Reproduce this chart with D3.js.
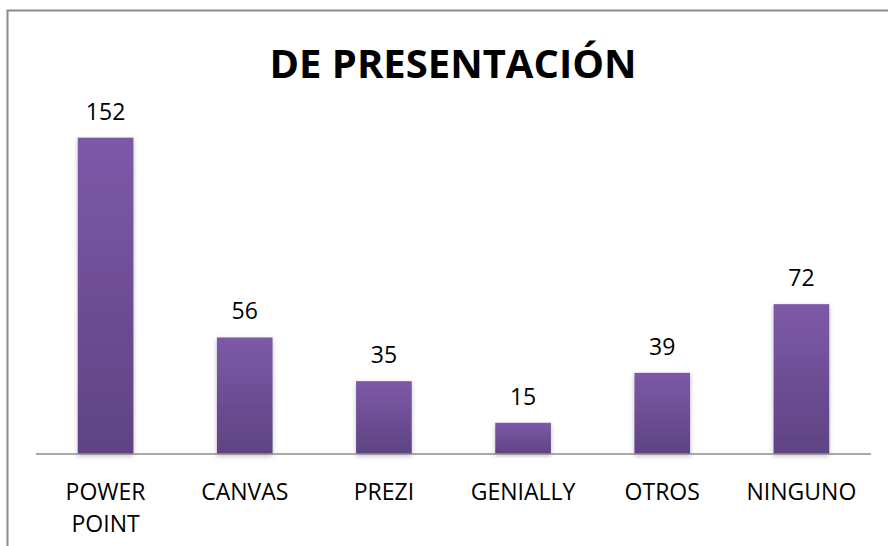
<!DOCTYPE html>
<html>
<head>
<meta charset="utf-8">
<script src="https://cdn.jsdelivr.net/npm/d3@7"></script>
<style>
body{margin:0;background:#fff;}
svg{display:block;}
</style>
</head>
<body>
<div id="chart"></div>
<script>
const categories = ["POWER POINT","CANVAS","PREZI","GENIALLY","OTROS","NINGUNO"];
const values = [152,56,35,15,39,72];
const title = "DE PRESENTACIÓN";

const W = 888, H = 546;
const svg = d3.select("#chart").append("svg")
    .attr("width",W).attr("height",H);

const defs = svg.append("defs");
const grad = defs.append("linearGradient")
    .attr("id","barGrad").attr("x1",0).attr("y1",0).attr("x2",0).attr("y2",1);
grad.append("stop").attr("offset","0%").attr("stop-color","#7D59A8");
grad.append("stop").attr("offset","100%").attr("stop-color","#5E4382");

const shadow = defs.append("filter").attr("id","shadow")
    .attr("x","-20%").attr("y","-5%").attr("width","140%").attr("height","115%");
shadow.append("feDropShadow")
    .attr("dx",0).attr("dy",2).attr("stdDeviation",2.5)
    .attr("flood-color","#000").attr("flood-opacity",0.25);

// chart border
svg.append("rect")
    .attr("x",7.5).attr("y",10.5)
    .attr("width",W+10).attr("height",H+10)
    .attr("fill","none").attr("stroke","#8c8c8c").attr("stroke-width",2);

const x = d3.scaleBand()
    .domain(categories)
    .range([36,871])
    .paddingInner(0.6)
    .paddingOuter(0.3);

const y = d3.scaleLinear()
    .domain([0,160])
    .range([454,121]);

const font = "'Open Sans', 'Liberation Sans', sans-serif";

svg.append("text")
    .text(title)
    .attr("x",453).attr("y",78)
    .attr("text-anchor","middle")
    .style("font-family",font)
    .style("font-weight","bold")
    .style("font-size","40px")
    .attr("fill","#000");

svg.append("g")
    .selectAll("rect")
    .data(values)
    .enter()
    .append("rect")
    .attr("x",(d,i)=>x(categories[i]))
    .attr("y",d=>y(d))
    .attr("width",x.bandwidth())
    .attr("height",d=>y(0)-y(d))
    .attr("fill","url(#barGrad)")
    .attr("filter","url(#shadow)");

// baseline
svg.append("line")
    .attr("x1",36).attr("x2",871)
    .attr("y1",y(0)).attr("y2",y(0))
    .attr("stroke","#8c8c8c").attr("stroke-width",1.5);

// value labels
svg.append("g")
    .selectAll("text")
    .data(values)
    .enter()
    .append("text")
    .text(d=>d)
    .attr("x",(d,i)=>x(categories[i])+x.bandwidth()/2)
    .attr("y",d=>y(d)-18)
    .attr("text-anchor","middle")
    .style("font-family",font)
    .style("font-size","23px")
    .attr("fill","#000");

// category labels
const cat = svg.append("g")
    .selectAll("text")
    .data(categories)
    .enter()
    .append("text")
    .attr("x",d=>x(d)+x.bandwidth()/2)
    .attr("y",500)
    .attr("text-anchor","middle")
    .style("font-family",font)
    .style("font-size","23px")
    .attr("fill","#000");

cat.each(function(d){
    const words = d.split(" ");
    const t = d3.select(this);
    words.forEach((w,i)=>{
        t.append("tspan")
            .attr("x",x(d)+x.bandwidth()/2)
            .attr("dy",i==0?0:32)
            .text(w);
    });
});
</script>
</body>
</html>
